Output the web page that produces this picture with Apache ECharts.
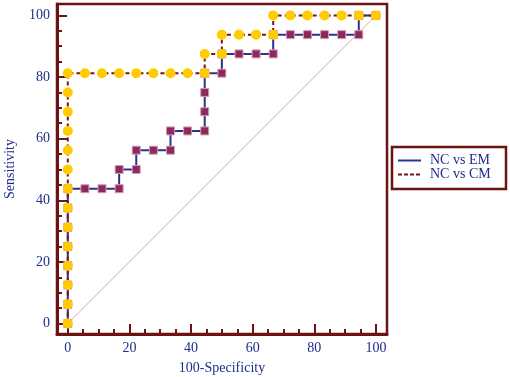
<!DOCTYPE html>
<html>
<head>
<meta charset="utf-8">
<script src="https://cdn.jsdelivr.net/npm/echarts@6/dist/echarts.min.js"></script>
<style>
  html, body { margin: 0; padding: 0; background: #fff; }
  #chart { width: 510px; height: 377px; }
</style>
</head>
<body>
<div id="chart"></div>
<script>
// ROC points (100-Specificity, Sensitivity)
var xEM = [0, 0, 0, 0, 0, 0, 0, 0, 5.56, 11.11, 16.67, 16.67, 22.22, 22.22, 27.78, 33.33, 33.33, 38.89, 44.44, 44.44, 44.44, 44.44, 50, 50, 55.56, 61.11, 66.67, 66.67, 72.22, 77.78, 83.33, 88.89, 94.44, 94.44, 100]
var yEM = [0, 6.25, 12.5, 18.75, 25, 31.25, 37.5, 43.75, 43.75, 43.75, 43.75, 50, 50, 56.25, 56.25, 56.25, 62.5, 62.5, 62.5, 68.75, 75, 81.25, 81.25, 87.5, 87.5, 87.5, 87.5, 93.75, 93.75, 93.75, 93.75, 93.75, 93.75, 100, 100]
var xCM = [0, 0, 0, 0, 0, 0, 0, 0, 0, 0, 0, 0, 0, 0, 5.56, 11.11, 16.67, 22.22, 27.78, 33.33, 38.89, 44.44, 44.44, 50, 50, 55.56, 61.11, 66.67, 66.67, 72.22, 77.78, 83.33, 88.89, 94.44, 100]
var yCM = [0, 6.25, 12.5, 18.75, 25, 31.25, 37.5, 43.75, 50, 56.25, 62.5, 68.75, 75, 81.25, 81.25, 81.25, 81.25, 81.25, 81.25, 81.25, 81.25, 81.25, 87.5, 87.5, 93.75, 93.75, 93.75, 93.75, 100, 100, 100, 100, 100, 100, 100]
var diagX = [0, 100]
var diagY = [0, 100]
var majorTicks = [0, 20, 40, 60, 80, 100]
var minorTicks = [0, 5, 10, 15, 20, 25, 30, 35, 40, 45, 50, 55, 60, 65, 70, 75, 80, 85, 90, 95, 100]

var frame = '#6b1212'
var textColor = '#1f2d8c'
var font = 'Liberation Serif'

function pairs(xs, ys) {
  return xs.map(function(x, i) { return [x, ys[i]] })
}

function axis(pos, isMinor, name) {
  var a = {
    type: 'value',
    position: pos,
    min: pos === 'bottom' ? -3.5 : -3.4,
    max: pos === 'bottom' ? 103.6 : 103.7,
    splitLine: { show: false },
    axisLine: { show: !isMinor, onZero: false, lineStyle: { color: frame, width: 3 } },
    axisTick: {
      show: true,
      inside: true,
      customValues: isMinor ? minorTicks : majorTicks,
      length: isMinor ? 5 : 10,
      lineStyle: { color: frame, width: 2 }
    },
    axisLabel: {
      show: !isMinor,
      customValues: majorTicks,
      margin: 7,
      color: textColor,
      fontFamily: font,
      fontSize: 14
    }
  }
  if (name) {
    a.name = name
    a.nameLocation = 'middle'
    a.nameGap = pos === 'bottom' ? 27 : 40
    a.nameTextStyle = { color: textColor, fontFamily: font, fontSize: 14 }
  }
  return a
}

var chart = echarts.init(document.getElementById('chart'))
chart.setOption({
  animation: false,
  grid: {
    left: 57, right: 123, top: 4, bottom: 43,
    outerBoundsMode: 'none',
    containLabel: false,
    show: true,
    borderColor: frame,
    borderWidth: 2.5
  },
  xAxis: [axis('bottom', false, '100-Specificity'), axis('bottom', true)],
  yAxis: [axis('left', false, 'Sensitivity'), axis('left', true)],
  series: [
    {
      name: 'diagonal',
      type: 'line',
      data: pairs(diagX, diagY),
      symbol: 'none',
      lineStyle: { color: '#dcaaaa', width: 1 }
    },
    {
      name: 'NC vs EM',
      type: 'line',
      data: pairs(xEM, yEM),
      symbol: 'rect',
      symbolSize: 8,
      showAllSymbol: true,
      itemStyle: { color: '#8c2a5c', borderColor: '#d79ab8', borderWidth: 1 },
      lineStyle: { color: '#2e3192', width: 2 }
    },
    {
      name: 'NC vs CM',
      type: 'line',
      data: pairs(xCM, yCM),
      symbol: 'circle',
      symbolSize: 10,
      showAllSymbol: true,
      itemStyle: { color: '#ffcc00', borderWidth: 0 },
      lineStyle: { color: '#7a1515', width: 2, type: [4, 3] }
    }
  ],
  graphic: [
    {
      type: 'rect',
      shape: { x: 392, y: 147, width: 114, height: 42 },
      style: { fill: 'none', stroke: frame, lineWidth: 2.5 }
    },
    {
      type: 'line',
      shape: { x1: 398, y1: 160.5, x2: 421, y2: 160.5 },
      style: { stroke: '#2e3192', lineWidth: 2 }
    },
    {
      type: 'line',
      shape: { x1: 398, y1: 174.5, x2: 421, y2: 174.5 },
      style: { stroke: '#7a1515', lineWidth: 2, lineDash: [4, 2] }
    },
    {
      type: 'text',
      x: 430, y: 160.5,
      style: { text: 'NC vs EM', fill: textColor, font: '14px "Liberation Serif"', verticalAlign: 'middle' }
    },
    {
      type: 'text',
      x: 430, y: 174.5,
      style: { text: 'NC vs CM', fill: textColor, font: '14px "Liberation Serif"', verticalAlign: 'middle' }
    }
  ]
})
</script>
</body>
</html>
